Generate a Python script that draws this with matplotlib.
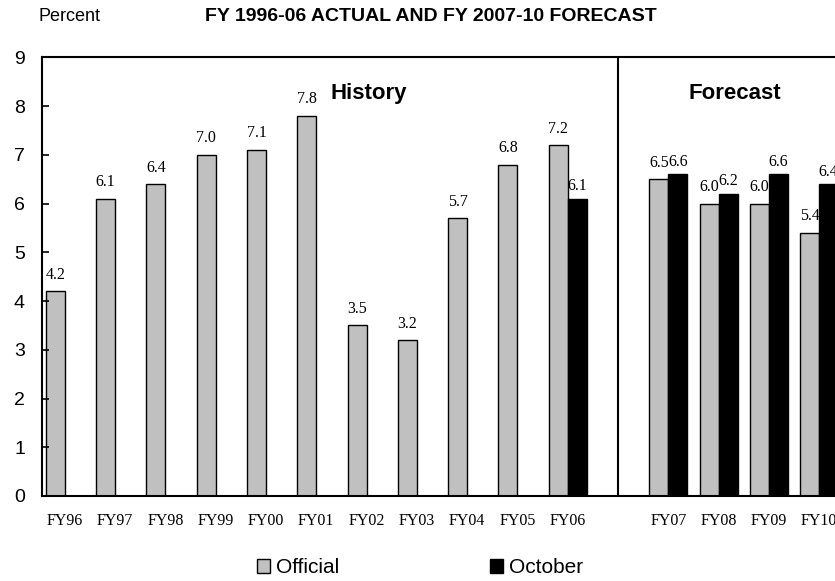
"""Official vs October forecast bar chart, FY96-FY10."""
import matplotlib
matplotlib.use("Agg")
import matplotlib.pyplot as plt
import numpy as np
from matplotlib.patches import Rectangle

# categories (blank slot between history and forecast)
years = ["FY96", "FY97", "FY98", "FY99", "FY00", "FY01", "FY02", "FY03",
         "FY04", "FY05", "FY06", "", "FY07", "FY08", "FY09", "FY10"]
official = [4.2, 6.1, 6.4, 7.0, 7.1, 7.8, 3.5, 3.2, 5.7, 6.8, 7.2,
            np.nan, 6.5, 6.0, 6.0, 5.4]
october = [np.nan] * 10 + [6.1, np.nan, 6.6, 6.2, 6.6, 6.4]

GRAY = "#c0c0c0"
SANS = "Liberation Sans"
SERIF = "Liberation Serif"

fig = plt.figure(figsize=(8.35, 5.81), dpi=100)
ax = fig.add_axes([0.0499, 0.1463, 0.9613, 0.7551])

x = np.arange(len(years))
w = 0.378
ax.bar(x - w / 2, official, w, color=GRAY, edgecolor="black", linewidth=1.0)
ax.bar(x + w / 2, october, w, color="black", edgecolor="black", linewidth=1.0)

for xi, v in zip(x, official):
    if not np.isnan(v):
        ax.annotate(f"{v:.1f}", (xi - w / 2, v), xytext=(0, 9),
                    textcoords="offset points", ha="center", va="baseline",
                    family=SERIF, fontsize=11.5)
for xi, v in zip(x, october):
    if not np.isnan(v):
        ax.annotate(f"{v:.1f}", (xi + w / 2, v), xytext=(0, 6),
                    textcoords="offset points", ha="center", va="baseline",
                    family=SERIF, fontsize=11.5)

# history / forecast divider
ax.axvline(11, color="black", linewidth=1.5)
ax.text(6.05, 8.14, "History", ha="center", va="baseline",
        family=SANS, fontsize=16, fontweight="bold")
ax.text(13.33, 8.14, "Forecast", ha="center", va="baseline",
        family=SANS, fontsize=16, fontweight="bold")

ax.set_xlim(-0.46, 15.5)
ax.set_ylim(0, 9)
ax.set_yticks(range(10))
ax.set_xticks(x)
ax.set_xticklabels(years, family=SERIF, fontsize=11.5)
for lab in ax.get_yticklabels():
    lab.set_family(SANS)
    lab.set_fontsize(14)
ax.tick_params(axis="y", direction="in", length=5, width=1.2, pad=12)
ax.tick_params(axis="x", length=0, pad=12)
for s in ax.spines.values():
    s.set_linewidth(1.5)

fig.text(0.0467, 0.963, "Percent", ha="left", va="baseline",
         family=SANS, fontsize=13)
fig.text(0.516, 0.9644, "FY 1996-06 ACTUAL AND FY 2007-10 FORECAST",
         ha="center", va="baseline", family=SANS, fontsize=14,
         fontweight="bold")

handles = [Rectangle((0, 0), 1, 1, facecolor=GRAY, edgecolor="black", linewidth=1.0),
           Rectangle((0, 0), 1, 1, facecolor="black", edgecolor="black", linewidth=1.0)]
fig.legend(handles, ["Official", "October"], loc="center",
           bbox_to_anchor=(0.503, 0.0224), ncol=2, frameon=False,
           prop={"family": SANS, "size": 15}, handlelength=0.63,
           handleheight=0.63, handletextpad=0.3, columnspacing=7.2)

fig.savefig("out.png", dpi=100)
